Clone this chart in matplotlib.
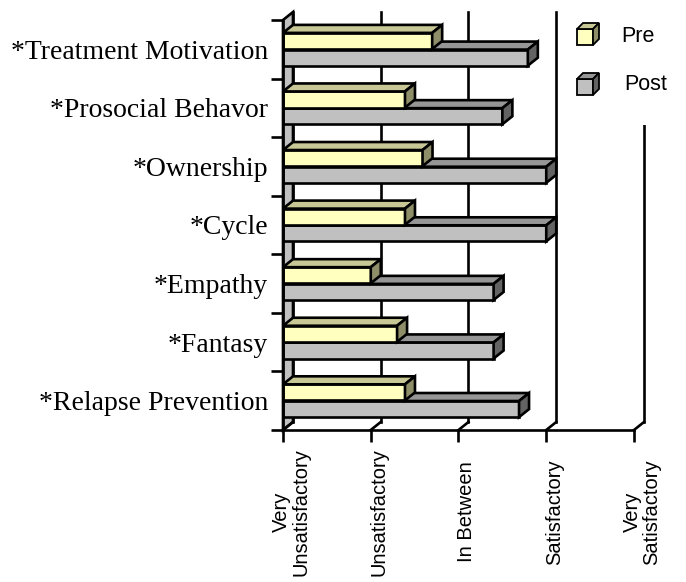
import matplotlib
matplotlib.use("Agg")
import matplotlib.pyplot as plt
from matplotlib.patches import Polygon
from matplotlib.transforms import offset_copy

categories = ["*Treatment Motivation", "*Prosocial Behavor", "*Ownership", "*Cycle",
              "*Empathy", "*Fantasy", "*Relapse Prevention"]
pre = [2.70, 2.39, 2.59, 2.39, 2.00, 2.30, 2.39]
post = [3.79, 3.50, 4.00, 4.00, 3.40, 3.40, 3.69]
scale_values = [1, 2, 3, 4, 5]
scale_labels = ["Very\nUnsatisfactory", "Unsatisfactory", "In Between",
                "Satisfactory", "Very\nSatisfactory"]

W, H = 686, 582
SERIF = "Liberation Serif"
SANS = "Liberation Sans"
PRE_COLS = ("#FFFFC0", "#C8C896", "#8E8E68")   # front, top, side
POST_COLS = ("#C0C0C0", "#969696", "#636363")
LW = 1.9

fig = plt.figure(figsize=(W / 100, H / 100), dpi=100)
# plot area in pixels: x 283..634 (values 1..5), y 20..430 (7 bands)
ax = fig.add_axes([283 / W, (H - 430) / H, 351 / W, 410 / H])
n = len(categories)
ax.set_xlim(scale_values[0], scale_values[-1])
ax.set_ylim(n, 0)

# 3-D depth, 10 px right and 8 px up, in data units
DX = 10 / (351 / (scale_values[-1] - scale_values[0]))
DY = 8 / (410 / n)


def face(pts, color, z):
    ax.add_patch(Polygon(pts, closed=True, facecolor=color, edgecolor="black",
                         lw=LW, joinstyle="miter", clip_on=False, zorder=z))


# side wall + back wall grid lines + floor
x0 = scale_values[0]
face([(x0, 0), (x0 + DX, -DY), (x0 + DX, n - DY), (x0, n)], "#C0C0C0", 1)
for v in scale_values:
    ax.plot([v, v + DX], [n, n - DY], color="black", lw=LW, clip_on=False, zorder=1)
    ax.plot([v + DX, v + DX], [-DY, n - DY], color="black", lw=LW, clip_on=False, zorder=1)


def bar3d(y0, y1, val, cols, z):
    front, top, side = cols
    face([(x0, y0), (val, y0), (val, y1), (x0, y1)], front, z)
    face([(x0, y0), (val, y0), (val + DX, y0 - DY), (x0 + DX, y0 - DY)], top, z)
    face([(val, y0), (val + DX, y0 - DY), (val + DX, y1 - DY), (val, y1)], side, z)


for i in range(n):
    bar3d(i + 0.505, i + 0.78, post[i], POST_COLS, 2)
    bar3d(i + 0.22, i + 0.495, pre[i], PRE_COLS, 3)

for s in ("top", "right"):
    ax.spines[s].set_visible(False)
for s in ("left", "bottom"):
    ax.spines[s].set_linewidth(LW)
    ax.spines[s].set_zorder(4)

ax.set_xticks(scale_values)
ax.set_xticklabels([])
ax.tick_params(axis="x", direction="out", length=8.6, width=LW)
ax.set_yticks([i + 0.5 for i in range(n)])
ax.set_yticklabels(categories, fontfamily=SERIF, fontsize=20)
ax.set_yticks(range(n + 1), minor=True)
ax.tick_params(axis="y", which="major", length=0, pad=10.8)
ax.tick_params(axis="y", which="minor", direction="out", length=8.6, width=LW)

lab_tr = offset_copy(ax.get_xaxis_transform(), fig=fig, x=8, y=-82, units="dots")
for v, lab in zip(scale_values, scale_labels):
    ax.text(v, 0, lab, transform=lab_tr, rotation=90, ha="center", va="center",
            multialignment="center", linespacing=1.0, fontfamily=SANS, fontsize=14.5)

# legend box with little cubes
lax = fig.add_axes([560 / W, (H - 125) / H, 126 / W, 125 / H], zorder=5)
lax.set_xlim(560, 686)
lax.set_ylim(125, 0)
lax.set_xticks([])
lax.set_yticks([])
for s in lax.spines.values():
    s.set_visible(False)
lax.set_facecolor("white")


def cube(xl, yt, size, d, cols):
    front, top, side = cols
    yb = yt + size
    xr = xl + size
    for pts, c in (([(xl, yt), (xr, yt), (xr, yb), (xl, yb)], front),
                   ([(xl, yt), (xr, yt), (xr + d, yt - d), (xl + d, yt - d)], top),
                   ([(xr, yt), (xr + d, yt - d), (xr + d, yb - d), (xr, yb)], side)):
        lax.add_patch(Polygon(pts, closed=True, facecolor=c, edgecolor="black",
                              lw=1.3, joinstyle="miter"))


cube(577, 29, 16, 6, PRE_COLS)
cube(577, 79, 16, 6, POST_COLS)
lax.text(621, 37, "Pre", ha="left", va="center", fontfamily=SANS, fontsize=15.5)
lax.text(624, 85, "Post", ha="left", va="center", fontfamily=SANS, fontsize=15.5)

fig.savefig("out.png", dpi=100)
